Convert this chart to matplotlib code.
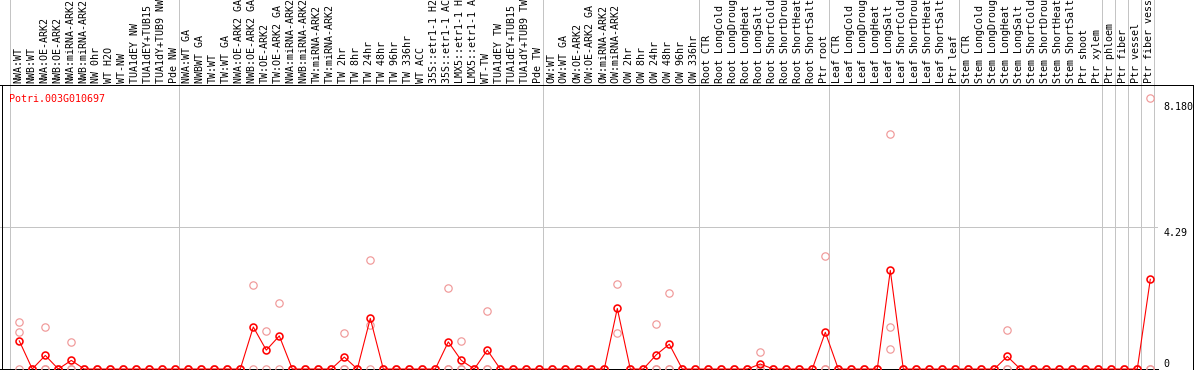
import numpy as np
import matplotlib
matplotlib.use("Agg")
import matplotlib.pyplot as plt

title = "Potri.003G010697"

samples = [
    "NWA:WT", "NWB:WT", "NWA:OE-ARK2", "NWB:OE-ARK2", "NWA:miRNA-ARK2", "NWB:miRNA-ARK2",
    "NW 0hr", "WT H2O", "WT-NW", "TUA1dEY NW", "TUA1dEY+TUB15 NW", "TUA1dY+TUB9 NW", "Pde NW",
    "NWA:WT GA", "NWBWT GA", "TW:WT", "TW:WT GA", "NWA:OE-ARK2 GA", "NWB:OE-ARK2 GA",
    "TW:OE-ARK2", "TW:OE-ARK2 GA", "NWA:miRNA-ARK2 GA", "NWB:miRNA-ARK2 GA", "TW:miRNA-ARK2",
    "TW:miRNA-ARK2 GA", "TW 2hr", "TW 8hr", "TW 24hr", "TW 48hr", "TW 96hr", "TW 336hr",
    "WT ACC", "35S::etr1-1 H2O", "35S::etr1-1 ACC", "LMX5::etr1-1 H2O", "LMX5::etr1-1 ACC",
    "WT-TW", "TUA1dEY TW", "TUA1dEY+TUB15 TW", "TUA1dY+TUB9 TW", "Pde TW",
    "OW:WT", "OW:WT GA", "OW:OE-ARK2", "OW:OE-ARK2 GA", "OW:miRNA-ARK2", "OW:miRNA-ARK2 GA",
    "OW 2hr", "OW 8hr", "OW 24hr", "OW 48hr", "OW 96hr", "OW 336hr",
    "Root CTR", "Root LongCold", "Root LongDrought", "Root LongHeat", "Root LongSalt",
    "Root ShortCold", "Root ShortDrought", "Root ShortHeat", "Root ShortSalt", "Ptr root",
    "Leaf CTR", "Leaf LongCold", "Leaf LongDrought", "Leaf LongHeat", "Leaf LongSalt",
    "Leaf ShortCold", "Leaf ShortDrought", "Leaf ShortHeat", "Leaf ShortSalt", "Ptr leaf",
    "Stem CTR", "Stem LongCold", "Stem LongDrought", "Stem LongHeat", "Stem LongSalt",
    "Stem ShortCold", "Stem ShortDrought", "Stem ShortHeat", "Stem ShortSalt", "Ptr shoot",
    "Ptr xylem", "Ptr phloem", "Ptr fiber", "Ptr vessel", "Ptr fiber vessel",
]

# group sizes (columns between the vertical separators)
group_sizes = [13, 28, 12, 10, 10, 11, 1, 1, 1, 1]

mean_vals = [
    0.85, 0, 0.41, 0, 0.26, 0, 0, 0, 0, 0, 0, 0, 0,
    0, 0, 0, 0, 0, 1.27, 0.57, 1.00, 0, 0, 0, 0, 0.36, 0, 1.53, 0, 0, 0,
    0, 0, 0.82, 0.26, 0, 0.57, 0, 0, 0, 0,
    0, 0, 0, 0, 0, 1.83, 0, 0, 0.43, 0.75, 0, 0,
    0, 0, 0, 0, 0.15, 0, 0, 0, 0, 1.11,
    0, 0, 0, 0, 2.98, 0, 0, 0, 0, 0,
    0, 0, 0, 0.38, 0, 0, 0, 0, 0, 0,
    0, 0, 0, 0, 2.71,
]

rep1 = [
    1.41, 0, 1.26, 0, 0.81, 0, 0, 0, 0, 0, 0, 0, 0,
    0, 0, 0, 0, 0, 2.54, 1.15, 1.99, 0, 0, 0, 0, 1.08, 0, 3.28, 0, 0, 0,
    0, 0, 2.44, 0.84, 0, 1.75, 0, 0, 0, 0,
    0, 0, 0, 0, 0, 2.56, 0, 0, 1.35, 2.29, 0, 0,
    0, 0, 0, 0, 0.50, 0, 0, 0, 0, 3.41,
    0, 0, 0, 0, 7.09, 0, 0, 0, 0, 0,
    0, 0, 0, 1.17, 0, 0, 0, 0, 0, 0,
    0, 0, 0, 0, 8.18,
]

rep2 = [
    1.11, 0, 0, 0, 0, 0, 0, 0, 0, 0, 0, 0, 0,
    0, 0, 0, 0, 0, 0, 0, 0, 0, 0, 0, 0, 0, 0, 1.33, 0, 0, 0,
    0, 0, 0, 0, 0, 0, 0, 0, 0, 0,
    0, 0, 0, 0, 0, 1.08, 0, 0, 0, 0, 0, 0,
    0, 0, 0, 0, 0, 0, 0, 0, 0, 0,
    0, 0, 0, 0, 1.26, 0, 0, 0, 0, 0,
    0, 0, 0, 0, 0, 0, 0, 0, 0, 0,
    0, 0, 0, 0, 0,
]

nan = float("nan")
rep3 = [
    0, 0, 0, 0, 0, 0, 0, 0, 0, 0, 0, 0, 0,
    0, 0, 0, 0, 0, nan, nan, nan, 0, 0, 0, 0, 0, 0, 0, 0, 0, 0,
    0, 0, 0, 0, 0, 0, 0, 0, 0, 0,
    0, 0, 0, 0, 0, nan, 0, 0, 0, 0, 0, 0,
    0, 0, 0, 0, 0, 0, 0, 0, 0, 0,
    0, 0, 0, 0, 0.60, 0, 0, 0, 0, 0,
    0, 0, 0, 0, 0, 0, 0, 0, 0, 0,
    0, 0, 0, 0, 0,
]

y_max_label = "8.180"
y_mid_value = 4.29
y_mid_label = "4.29"
y_min_label = "0"

# ---------------------------------------------------------------- layout
W, H = 1194, 370
fig = plt.figure(figsize=(W / 100, H / 100), dpi=100)
ax = fig.add_axes([0, 0, 1, 1])
ax.axis("off")

COLW = 13.0
X0 = 10.0           # pixel of first separator
ZERO_PY = 369.0     # pixel row of value 0
PPU = (369.0 - 98.3) / 8.18  # pixels per unit


def X(px):
    return (px - X0) / COLW


def Y(py):
    return (ZERO_PY - py) / PPU


ax.set_xlim(X(0), X(W))
ax.set_ylim(Y(H), Y(0))

PX = 0.72  # 1 pixel line width in points
grey = "#c4c4c4"
pink = "#f09898"
mono = "DejaVu Sans Mono"
fs = 7.2

n = len(samples)
xs = np.arange(n) + 0.715

# vertical separators
bounds = np.concatenate([[0], np.cumsum(group_sizes)])
for b in bounds:
    ax.plot([b, b], [Y(H), Y(0)], color=grey, lw=PX, zorder=1)

# horizontal mid grid line
ax.plot([X(0), X(1157)], [y_mid_value, y_mid_value], color=grey, lw=PX, zorder=1)

# frame
ax.plot([X(0), X(W)], [Y(85), Y(85)], color="black", lw=PX, zorder=5)
ax.plot([X(0), X(1158)], [0, 0], color="black", lw=PX, zorder=1.5)
ax.plot([X(1.5), X(1.5)], [Y(85), Y(H)], color="black", lw=PX, zorder=5)
ax.plot([X(1192.5), X(1192.5)], [Y(85), Y(H)], color="black", lw=PX, zorder=5)

# replicate points
for r in (rep1, rep2, rep3):
    ax.plot(xs, r, "o", mfc="none", mec=pink, ms=5.3, mew=0.85, zorder=2)

# mean points and connecting line
ax.plot(xs, mean_vals, "o", mfc="none", mec="red", ms=5.0, mew=1.15, zorder=3)
ax.plot(xs, mean_vals, "-", color="red", lw=0.8, zorder=4)

# column labels
for i, s in enumerate(samples):
    ax.text(X(21.0 + COLW * i), Y(83), s, rotation=90, rotation_mode="anchor",
            ha="left", va="baseline", fontsize=fs, family=mono, color="black")

# title
ax.text(X(9), Y(101.7), title, color="red", fontsize=fs, family=mono,
        ha="left", va="baseline")

# right axis labels
ax.text(X(1163), Y(110), y_max_label, fontsize=fs, family=mono, ha="left", va="baseline")
ax.text(X(1164), Y(235.5), y_mid_label, fontsize=fs, family=mono, ha="left", va="baseline")
ax.text(X(1163), Y(367), y_min_label, fontsize=fs, family=mono, ha="left", va="baseline")

fig.savefig("out.png", dpi=100)
